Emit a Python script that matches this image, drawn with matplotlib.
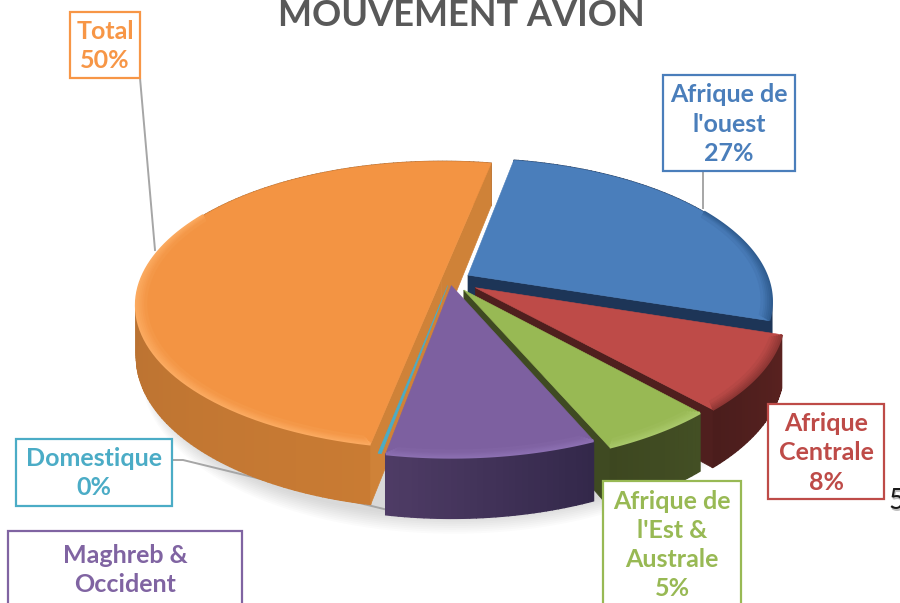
import numpy as np
import matplotlib
matplotlib.use('Agg')
import matplotlib.pyplot as plt
from matplotlib.colors import to_rgb
from matplotlib.patches import Polygon, Rectangle

plt.rcParams['font.family'] = ['Lato', 'DejaVu Sans']

# valeurs
labels = ["Afrique de\nl'ouest", "Afrique\nCentrale", "Afrique de\nl'Est &\nAustrale",
          "Maghreb &\nOccident", "Domestique", "Total"]
values = [27, 8.3, 5.2, 9.3, 0.15, 50]
explode = [0.07, 0.10, 0.085, 0.04, 0.04, 0.03]
top_colors = ['#4A7EBB', '#BE4B48', '#98B954', '#7D60A0', '#4BACC6', '#F39443']
rim_colors = ['#2F5C90', '#8E3634', '#A9C86A', '#8C70B2', '#4BACC6', '#FBAA60']
side_colors = [('#1D3557', '#1D3557'), ('#5A2220', '#4A1D1C'), ('#434F24', '#3D4720'),
               ('#33284A', '#4F3C66'), ('#2F8FA0', '#2F8FA0'), ('#A56530', '#C97B33')]
cut_colors = ['#1D3557', '#4F1F1E', '#3F4A22', '#43345A', '#2F8FA0', '#CF8238']

START = 11      # degres depuis le haut, sens horaire
CX, CY, RX, RY = 450, 280, 300, 139
K = 0.177
DEPTH = 50


def proj(u, v, z=0.0):
    s = 1.0 / (1.0 + K * v)
    return CX + RX * u * s, CY - RY * v * s + z * s


def ring(t1, t2, r, off, z=0.0, n=60):
    th = np.radians(np.linspace(t1, t2, n))
    return [proj(r * np.sin(t) + off[0], r * np.cos(t) + off[1], z) for t in th]


def mix(c1, c2, f):
    a, b = np.array(to_rgb(c1)), np.array(to_rgb(c2))
    return tuple(a + (b - a) * f)


fig = plt.figure(figsize=(9, 6.03), dpi=100)
ax = fig.add_axes([0, 0, 1, 1])
ax.set_xlim(0, 900)
ax.set_ylim(603, 0)
ax.axis('off')

# ombre douce sous le camembert
for i in range(10):
    pts = ring(95, 290, 1.0 + 0.002 * i, (0.01, -0.02), DEPTH + 2 + 1.2 * i, n=90)
    ax.add_patch(Polygon(pts, closed=True, fc='#808080', ec='none', alpha=0.03, zorder=1))

angles = np.cumsum([0] + values) / sum(values) * 360 + START
order = [5, 0, 1, 2, 4, 3]

for zo, i in enumerate(order):
    t1, t2 = angles[i], angles[i + 1]
    mid = np.radians((t1 + t2) / 2)
    off = (explode[i] * np.sin(mid), explode[i] * np.cos(mid))
    z = 10 + zo * 5
    apex, apex_b = proj(*off), proj(*off, DEPTH)

    # la tranche Domestique est trop fine pour montrer un flanc
    if t2 - t1 > 5:
        # flanc
        n = max(int(t2 - t1), 2)
        steps = np.linspace(t1, t2, n + 1)
        for a, b in zip(steps[:-1], steps[1:]):
            f = (a - t1) / max(t2 - t1, 1)
            if i == 5:
                f = 1 - f
            c = mix(side_colors[i][0], side_colors[i][1], f)
            pts = ring(a, b, 1, off, 0, 3) + ring(b, a, 1, off, DEPTH, 3)
            ax.add_patch(Polygon(pts, closed=True, fc=c, ec=c, lw=1.0, zorder=z))

        # faces de coupe tournees vers nous seulement
        for t, visible in ((t1, np.sin(np.radians(t1)) < 0), (t2, np.sin(np.radians(t2)) > 0)):
            if visible:
                p, q = ring(t, t, 1, off, 0, 1)[0], ring(t, t, 1, off, DEPTH, 1)[0]
                ax.add_patch(Polygon([apex, p, q, apex_b], closed=True, fc=cut_colors[i],
                                     ec=cut_colors[i], lw=0.5, zorder=z + 1))

    # dessus et biseau
    top = [apex] + ring(t1, t2, 1, off)
    ax.add_patch(Polygon(top, closed=True, fc=top_colors[i], ec=top_colors[i],
                         lw=0.4, zorder=z + 2))
    r1, r2 = max(t1, 60), min(t2, 300)
    if r2 - r1 > 5:
        for j in range(6):
            r = 1.0 - 0.006 * j
            pad = 0.3 * j
            c = mix(rim_colors[i], top_colors[i], j / 6)
            pts = ring(r1 + pad, r2 - pad, r, off)
            ax.plot(*zip(*pts), color=c, lw=2.2, zorder=z + 3, solid_capstyle='butt')

# lignes de rappel
leader = '#A6A6A6'
ax.plot([140, 155], [78, 250], color=leader, lw=1.4, zorder=2)
ax.plot([703, 703], [171, 208], color=leader, lw=1.4, zorder=2)
ax.plot([172, 183, 388], [460, 460, 510], color=leader, lw=1.4, zorder=2)


def label_box(x0, y0, x1, y1, color, text, yc=None):
    ax.add_patch(Rectangle((x0, y0), x1 - x0, y1 - y0, fc='white', ec=color, lw=1.6, zorder=60))
    ax.text((x0 + x1) / 2, yc if yc else (y0 + y1) / 2, text, color=color, ha='center', va='center',
            fontsize=18, fontweight='bold', linespacing=1.32, zorder=61)


def pct(i):
    return f"{labels[i]}\n{round(values[i])}%"


label_box(663, 75, 795, 171, '#4A7EBB', pct(0), yc=124)
label_box(768, 404, 884, 499, '#BE4B48', pct(1), yc=453)
label_box(603, 481, 741, 620, '#98B954', pct(2), yc=545)
label_box(8, 531, 242, 640, '#8064A2', labels[3], yc=570)
label_box(16, 439, 172, 506, '#4BACC6', pct(4), yc=473)
label_box(70, 12, 140, 78, '#F79646', pct(5), yc=46)

# titre (coupe en haut)
ax.text(461, 16, 'MOUVEMENT AVION', color='#595959', ha='center', va='center',
        fontsize=26, fontweight='bold', zorder=70)

# chiffre tronque a droite
ax.text(889, 503, '5', color='#BFBFBF', ha='left', va='center', fontsize=20, zorder=70)
ax.text(888, 501, '5', color='#1A1A1A', ha='left', va='center', fontsize=20, zorder=71)

fig.savefig('out.png', dpi=100)
